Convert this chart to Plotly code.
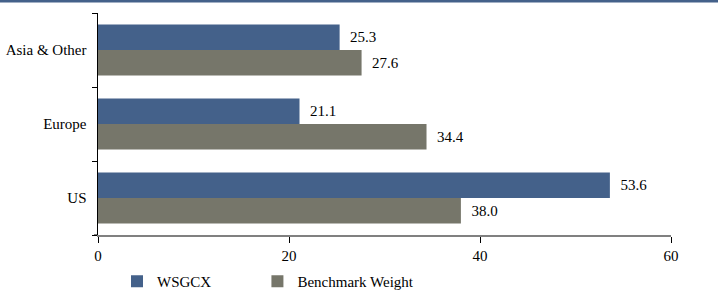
import plotly.graph_objects as go

categories = ["US", "Europe", "Asia & Other"]
wsgcx = [53.6, 21.1, 25.3]
benchmark = [38.0, 34.4, 27.6]
x_ticks = [0, 20, 40, 60]

BLUE = "#44618A"
GRAY = "#76766A"
FONT = "Times New Roman"
PAD = "\u00a0\u00a0"

fig = go.Figure()
fig.add_trace(go.Bar(
    y=categories, x=benchmark, orientation="h", name="Benchmark Weight",
    marker=dict(color=GRAY, line=dict(width=0)),
    text=[f"{PAD}{v:.1f}" for v in benchmark], textposition="outside",
    textfont=dict(family=FONT, size=15, color="#000"), cliponaxis=False,
))
fig.add_trace(go.Bar(
    y=categories, x=wsgcx, orientation="h", name="WSGCX" + "\u00a0" * 11,
    marker=dict(color=BLUE, line=dict(width=0)),
    text=[f"{PAD}{v:.1f}" for v in wsgcx], textposition="outside",
    textfont=dict(family=FONT, size=15, color="#000"), cliponaxis=False,
))

fig.update_layout(
    width=718, height=292,
    margin=dict(l=98, r=47, t=13, b=57, autoexpand=False),
    paper_bgcolor="white", plot_bgcolor="white",
    barmode="group", bargap=0.31, bargroupgap=0,
    font=dict(family=FONT, size=15, color="#000"),
    showlegend=True,
    legend=dict(orientation="h", x=117 / 718, xanchor="left", xref="container",
                y=1 - 265 / 292, yanchor="top", yref="container",
                traceorder="reversed", font=dict(family=FONT, size=15, color="#000"),
                itemwidth=30, bgcolor="rgba(0,0,0,0)"),
    xaxis=dict(range=[0, 60], tickvals=x_ticks, showgrid=False, zeroline=False,
               showline=True, linecolor="#808080", linewidth=2, ticks="outside",
               ticklen=6, tickcolor="#000", tickwidth=1, automargin=False,
               tickfont=dict(family=FONT, size=15, color="#000")),
    yaxis=dict(categoryorder="array", categoryarray=categories, showgrid=False,
               zeroline=False, showline=True, linecolor="#000", linewidth=1,
               ticks="outside", tickson="boundaries", ticklen=5, tickcolor="#000",
               automargin=False,
               tickfont=dict(family=FONT, size=15, color="#000"), ticksuffix="  "),
)

fig.add_shape(type="line", xref="paper", yref="paper",
              x0=-98/573, x1=1+47/573, y0=1+12/222, y1=1+12/222,
              line=dict(color=BLUE, width=3))
fig.add_shape(type="line", xref="paper", yref="paper", layer="below",
              xsizemode="pixel", xanchor=0, x0=-4, x1=0, y0=0, y1=0,
              line=dict(color="#808080", width=2))

fig.write_html("out.html", config={"displayModeBar": False},
               post_script="document.body.style.margin='0';document.body.style.overflow='hidden';")
